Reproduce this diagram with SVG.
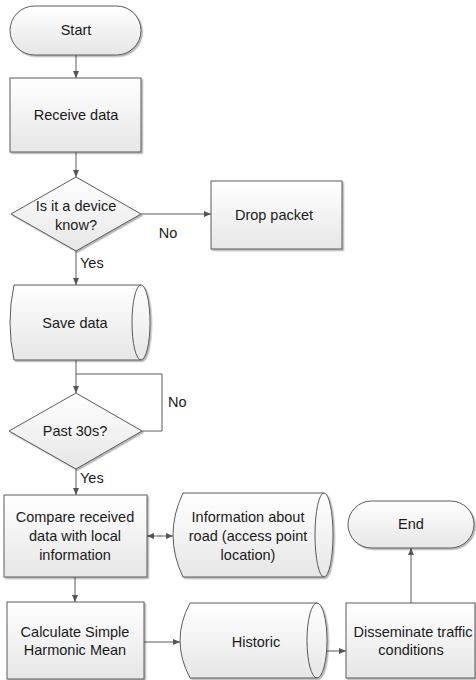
<svg xmlns="http://www.w3.org/2000/svg" width="476" height="680" viewBox="0 0 476 680">
<defs>
  <linearGradient id="g" x1="0" y1="0" x2="0" y2="1">
    <stop offset="0" stop-color="#ffffff"/>
    <stop offset="1" stop-color="#e6e6e6"/>
  </linearGradient>
  <filter id="sh" x="-10%" y="-10%" width="125%" height="125%">
    <feDropShadow dx="1.5" dy="1.5" stdDeviation="0.7" flood-color="#000" flood-opacity="0.3"/>
  </filter>
  <marker id="ah" markerUnits="userSpaceOnUse" markerWidth="8" markerHeight="8" refX="7" refY="3" orient="auto-start-reverse">
    <path d="M0,0 L7,3 L0,6 Z" fill="#555"/>
  </marker>
</defs>
<style>
  .n { fill: url(#g); stroke: #5a5a5a; stroke-width: 1; filter: url(#sh); }
  .e { fill: none; stroke: #5a5a5a; stroke-width: 1; }
  .c { fill: none; stroke: #5a5a5a; stroke-width: 1; }
  .a { marker-end: url(#ah); }
  text { font-family: "Liberation Sans", Arial, sans-serif; font-size: 14.5px; fill: #1a1a1a; }
  .m { text-anchor: middle; }
</style>

<g id="connectors">
  <line class="c a" x1="76" y1="55" x2="76" y2="78"/>
  <line class="c a" x1="76" y1="152" x2="76" y2="177"/>
  <line class="c a" x1="141" y1="214" x2="211" y2="214"/>
  <line class="c a" x1="76" y1="251" x2="76" y2="285"/>
  <line class="c a" x1="76" y1="360" x2="76" y2="393"/>
  <polyline class="c" points="142,431 162,431 162,374 76,374"/>
  <line class="c a" x1="76" y1="469" x2="76" y2="495"/>
  <line class="c a" x1="147" y1="536" x2="173" y2="536" style="marker-start:url(#ah)"/>
  <line class="c a" x1="75" y1="577" x2="75" y2="602"/>
  <line class="c a" x1="144" y1="642" x2="180" y2="642"/>
  <line class="c a" x1="317" y1="651" x2="346" y2="651"/>
  <line class="c a" x1="411" y1="603" x2="411" y2="548"/>
  <text x="168" y="238" class="m">No</text>
  <text x="80" y="268">Yes</text>
  <text x="168" y="407">No</text>
  <text x="80" y="483">Yes</text>
</g>

<g id="start">
  <rect class="n" x="10" y="6" width="131" height="49" rx="24.5"/>
  <text x="76" y="35" class="m">Start</text>
</g>

<g id="receive">
  <rect class="n" x="10" y="78" width="131" height="74"/>
  <text x="76" y="120" class="m">Receive data</text>
</g>

<g id="device-known">
  <polygon class="n" points="76,177 141,214 76,251 11,214"/>
  <text x="76" y="211" class="m">Is it a device</text>
  <text x="76" y="230" class="m">know?</text>
</g>

<g id="drop">
  <rect class="n" x="211" y="181" width="131" height="68"/>
  <text x="274" y="220" class="m">Drop packet</text>
</g>

<g id="save">
  <path class="n" d="M14,285 H141 A9,37.5 0 0 1 141,360 H14 Q6,322.5 14,285 Z"/>
  <path class="e" d="M141,285 A9,37.5 0 0 0 141,360"/>
  <text x="75" y="328" class="m">Save data</text>
</g>

<g id="past30">
  <polygon class="n" points="76,393 142,431 76,469 9,431"/>
  <text x="75" y="436" class="m">Past 30s?</text>
</g>

<g id="compare">
  <rect class="n" x="4" y="495" width="143" height="82"/>
  <text x="75" y="522" class="m">Compare received</text>
  <text x="75" y="541" class="m">data with local</text>
  <text x="75" y="560" class="m">information</text>
</g>

<g id="road-info">
  <path class="n" d="M183,493 H324 A9,42 0 0 1 324,577 H183 Q163,535 183,493 Z"/>
  <path class="e" d="M324,493 A9,42 0 0 0 324,577"/>
  <text x="248" y="522" class="m">Information about</text>
  <text x="248" y="541" class="m">road (access point</text>
  <text x="248" y="560" class="m">location)</text>
</g>

<g id="end">
  <rect class="n" x="348" y="501" width="126" height="47" rx="23.5"/>
  <text x="411" y="529" class="m">End</text>
</g>

<g id="calculate">
  <rect class="n" x="7" y="602" width="137" height="77"/>
  <text x="75" y="637" class="m">Calculate Simple</text>
  <text x="75" y="655" class="m">Harmonic Mean</text>
</g>

<g id="historic">
  <path class="n" d="M190,603 H317 A10,37.5 0 0 1 317,678 H190 Q170,640.5 190,603 Z"/>
  <path class="e" d="M317,603 A10,37.5 0 0 0 317,678"/>
  <text x="256" y="647" class="m">Historic</text>
</g>

<g id="disseminate">
  <rect class="n" x="346" y="603" width="129" height="75"/>
  <text x="413" y="637" class="m">Disseminate traffic</text>
  <text x="411" y="655" class="m">conditions</text>
</g>
</svg>
